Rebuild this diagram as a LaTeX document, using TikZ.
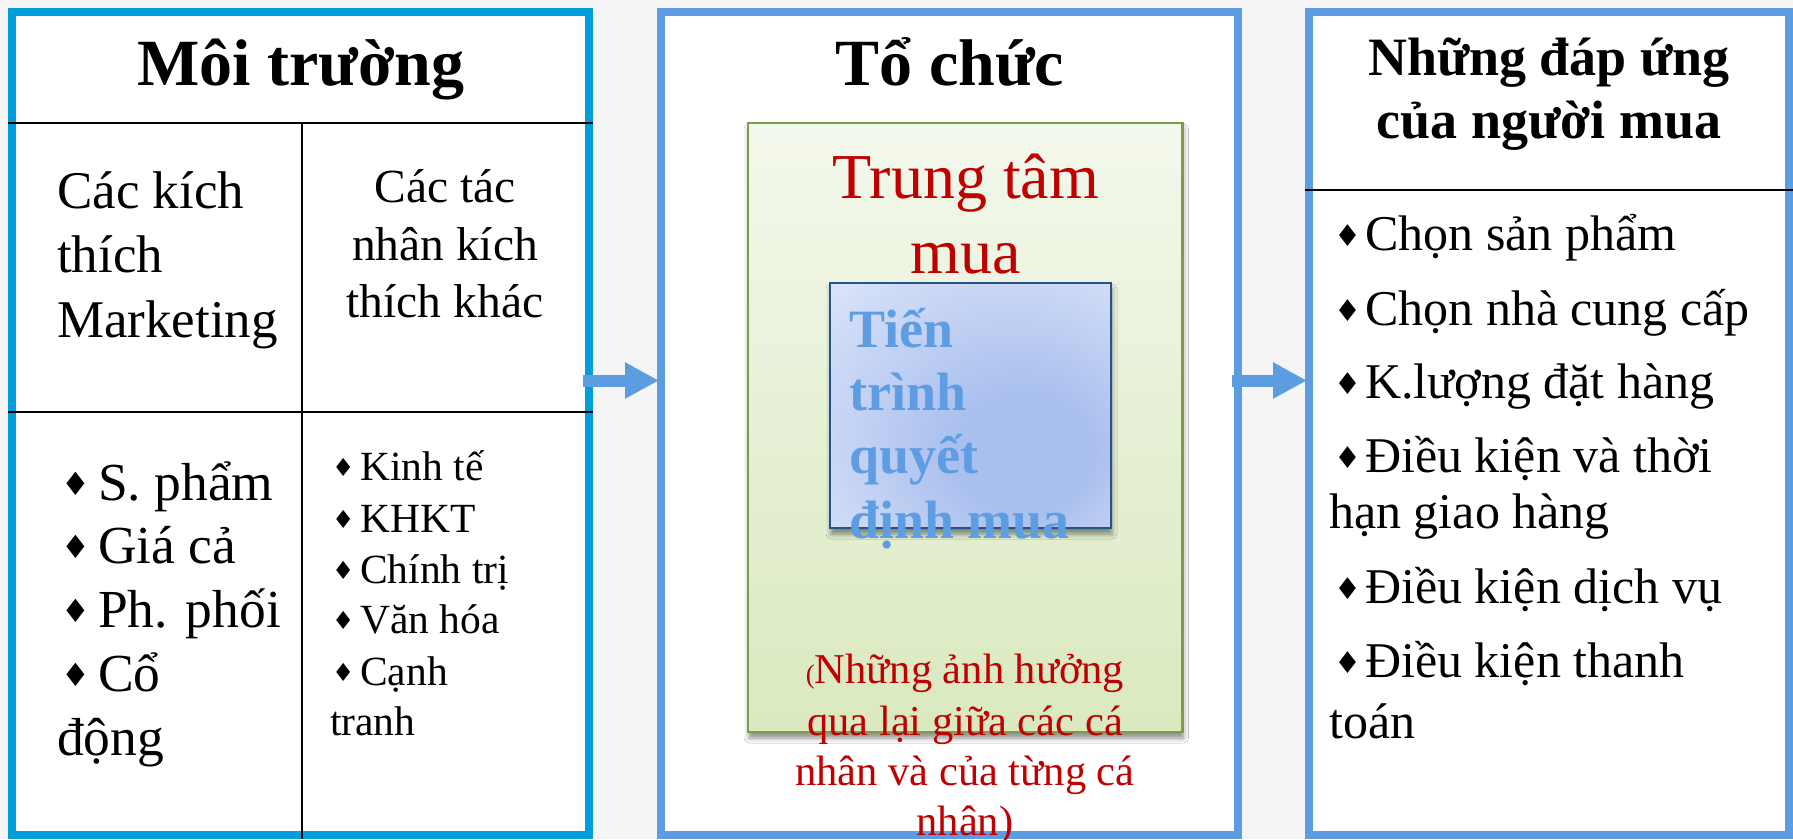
\documentclass[tikz,border=0pt]{standalone}
\usepackage{fontspec}
\setmainfont{Liberation Serif}
\newfontfamily\symfont{DejaVu Sans}
\usepackage{graphicx}
\usetikzlibrary{arrows.meta,calc,shadows.blur}
\definecolor{cyanb}{HTML}{009EDB}
\definecolor{midb}{HTML}{5C9CE0}
\definecolor{gborder}{HTML}{7F9A4A}
\definecolor{gtop}{HTML}{F3F8EC}
\definecolor{gbot}{HTML}{DAE9BF}
\definecolor{bborder}{HTML}{25538E}
\definecolor{binner}{HTML}{A9BFEE}
\definecolor{bouter}{HTML}{E2E9FA}
\definecolor{btext}{HTML}{5E9DE2}
\definecolor{rtext}{HTML}{C00000}
\definecolor{bgc}{HTML}{F5F5F5}
\pgfdeclareradialshading{bshade}{\pgfpoint{12bp}{-12bp}}{color(0bp)=(binner); color(12bp)=(binner); color(45bp)=(bouter); color(60bp)=(bouter)}
\newcommand\fs[1]{\fontsize{#1}{#1}\selectfont}
\newcommand\bul{\raisebox{0.08em}{\scalebox{0.6}{\symfont ♦}}}
\newcommand\bl[1]{\makebox[#1][l]{\bul}}
\tikzset{
  frame/.style={draw, line width=8pt, fill=white, rectangle, inner sep=0pt},
  txt/.style={inner sep=0pt, anchor=base west},
  ctxt/.style={inner sep=0pt, anchor=base},
  rule/.style={line width=1.8pt, black},
  arr/.style={draw=midb, line width=12pt, -{Triangle[length=34pt,width=34pt]}},
  shd/.style={blur shadow={shadow xshift=1pt, shadow yshift=-6pt, shadow blur radius=5pt, shadow opacity=45}},
}
\begin{document}
\begin{tikzpicture}[x=1pt,y=-1pt]
\useasboundingbox (0,0) rectangle (1793,839);
\fill[bgc] (0,0) rectangle (1793,839);

% main frames
\node[frame, draw=cyanb, minimum width=577.5pt, minimum height=823pt] (L) at (300.25,423.5) {};
\node[frame, draw=midb, minimum width=576.5pt, minimum height=823pt] (M) at (949.25,423.5) {};
\node[frame, draw=midb, minimum width=480pt, minimum height=823pt] (R) at (1549,423.5) {};

% table rules of left frame
\coordinate (h1) at (0,123);
\coordinate (h2) at (0,412);
\coordinate (v1) at (302,0);
\draw[rule] (L.west |- h1) -- (L.east |- h1);
\draw[rule] (L.west |- h2) -- (L.east |- h2);
\draw[rule] (v1 |- h1) -- (v1 |- L.south);
% rule of right frame
\coordinate (h3) at (0,190);
\draw[rule] (R.west |- h3) -- (R.east |- h3);

% inner boxes
\node[rectangle, draw=gborder, line width=2.5pt, top color=gtop, bottom color=gbot, shd,
      minimum width=434.5pt, minimum height=609pt, inner sep=0pt] (G) at (965.25,427.5) {};
\node[rectangle, draw=bborder, line width=2.5pt, shading=bshade, shd,
      minimum width=281pt, minimum height=245pt, inner sep=0pt] (B) at (970.5,405.5) {};

% titles
\node[ctxt, font=\fs{66}\bfseries] (t1) at (301,85) {Môi trường};
\node[ctxt, font=\fs{66}\bfseries] (t2) at (950,85) {Tổ chức};
\node[ctxt, font=\fs{54}\bfseries] (t3a) at (1549,75) {Những đáp ứng};
\node[ctxt, font=\fs{54}\bfseries] (t3b) at (1549,138) {của người mua};

% left upper cells
\node[txt, font=\fs{53}] (a1) at (57,208) {Các kích};
\node[txt, font=\fs{53}] (a2) at (57,272.5) {thích};
\node[txt, font=\fs{53}] (a3) at (57,337) {Marketing};
\node[ctxt, font=\fs{47.5}] (b1) at (445,202) {Các tác};
\node[ctxt, font=\fs{47.5}] (b2) at (445,260) {nhân kích};
\node[ctxt, font=\fs{47.5}] (b3) at (445,317) {thích khác};

% left lower cells
\node[txt, font=\fs{53.5}] (c1) at (61,500) {\bl{37pt}S. phẩm};
\node[txt, font=\fs{53.5}] (c2) at (61,563) {\bl{37pt}Giá cả};
\node[txt, font=\fs{53.5}] (c3) at (61,627) {\bl{37pt}Ph. phối};
\node[txt, font=\fs{53.5}] (c4) at (61,691) {\bl{37pt}Cổ};
\node[txt, font=\fs{53.5}] (c5) at (57,755) {động};
\node[txt, font=\fs{41.5}] (d1) at (332,480) {\bl{28pt}Kinh tế};
\node[txt, font=\fs{41.5}] (d2) at (332,532) {\bl{28pt}KHKT};
\node[txt, font=\fs{41.5}] (d3) at (332,583) {\bl{28pt}Chính trị};
\node[txt, font=\fs{41.5}] (d4) at (332,633) {\bl{28pt}Văn hóa};
\node[txt, font=\fs{41.5}] (d5) at (332,685) {\bl{28pt}Cạnh};
\node[txt, font=\fs{41.5}] (d6) at (330,735) {tranh};

% middle texts
\node[ctxt, font=\fs{64}, text=rtext] (e1) at (966,198) {Trung tâm};
\node[ctxt, font=\fs{64}, text=rtext] (e2) at (966,273) {mua};
\node[txt, font=\fs{54}\bfseries, text=btext] (f1) at (849,347) {Tiến};
\node[txt, font=\fs{54}\bfseries, text=btext] (f2) at (849,410) {trình};
\node[txt, font=\fs{54}\bfseries, text=btext] (f3) at (849,473) {quyết};
\node[txt, font=\fs{54}\bfseries, text=btext] (f4) at (849,538) {định mua};
\node[ctxt, font=\fs{42.5}, text=rtext] (g1) at (965,683) {{\fs{27}(}Những ảnh hưởng};
\node[ctxt, font=\fs{42.5}, text=rtext] (g2) at (965,735) {qua lại giữa các cá};
\node[ctxt, font=\fs{42.5}, text=rtext] (g3) at (965,785) {nhân và của từng cá};
\node[ctxt, font=\fs{42.5}, text=rtext] (g4) at (965,835) {nhân)};

% right list
\node[txt, font=\fs{50}] (k1) at (1334,250) {\bl{31pt}Chọn sản phẩm};
\node[txt, font=\fs{50}] (k2) at (1334,325) {\bl{31pt}Chọn nhà cung cấp};
\node[txt, font=\fs{50}] (k3) at (1334,398) {\bl{31pt}K.lượng đặt hàng};
\node[txt, font=\fs{50}] (k4) at (1334,472) {\bl{31pt}Điều kiện và thời};
\node[txt, font=\fs{50}] (k5) at (1329,528) {hạn giao hàng};
\node[txt, font=\fs{50}] (k6) at (1334,603) {\bl{31pt}Điều kiện dịch vụ};
\node[txt, font=\fs{50}] (k7) at (1334,677) {\bl{31pt}Điều kiện thanh};
\node[txt, font=\fs{50}] (k8) at (1329,738) {toán};

% arrows
\coordinate (ay) at (0,380.5);
\draw[arr] ($(L.east |- ay)+(-10,0)$) -- ($(M.west |- ay)+(2,0)$);
\draw[arr] ($(M.east |- ay)+(-10,0)$) -- ($(R.west |- ay)+(2,0)$);
\end{tikzpicture}
\end{document}
